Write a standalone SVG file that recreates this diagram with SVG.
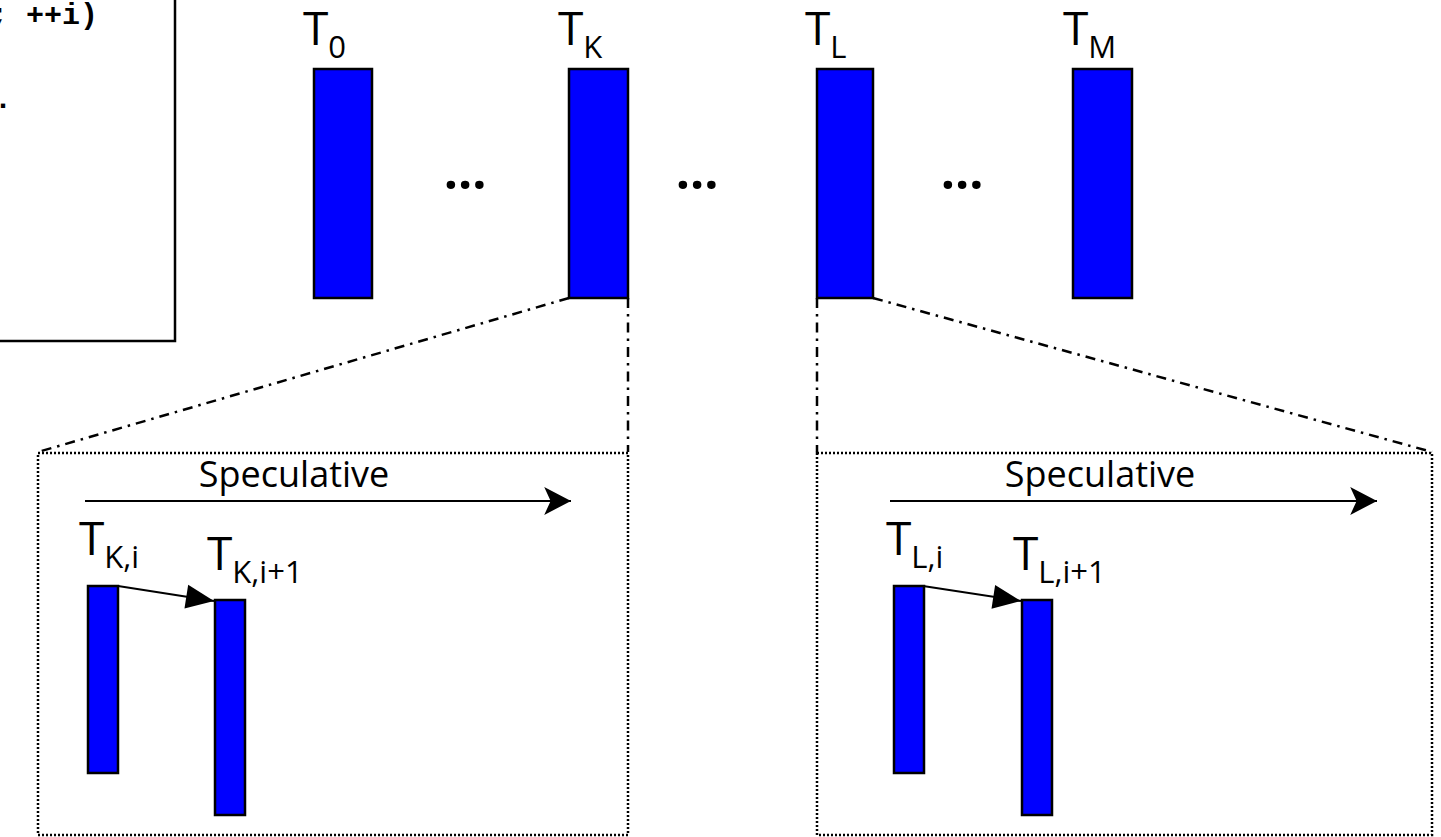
<svg xmlns="http://www.w3.org/2000/svg" width="1441" height="837" viewBox="0 0 1441 837">
<style>
.bar{fill:#0000FF;stroke:#000;stroke-width:2.5}
.lbl{font-family:"Open Sans","Noto Sans",sans-serif;font-size:46px;fill:#000}
.sub{font-size:31px}
.code{font-family:"Liberation Mono",monospace;font-weight:bold;font-size:30px;fill:#000}
.dots{font-family:"Open Sans",sans-serif;font-weight:bold;font-size:50px;fill:#000;text-anchor:middle}
.spec{font-family:"Open Sans","Noto Sans",sans-serif;font-size:36px;fill:#000;text-anchor:middle}
.dashdot{fill:none;stroke:#000;stroke-width:2.5;stroke-dasharray:10 6 2.5 6}
.dotted{fill:none;stroke:#000;stroke-width:2.5;stroke-dasharray:2 2}
.arr{fill:none;stroke:#000;stroke-width:2}
</style>
<defs>
<marker id="stealth" markerUnits="userSpaceOnUse" markerWidth="30" markerHeight="30" viewBox="-26 -14 28 28" refX="0" refY="0" orient="auto">
<path d="M0,0 L-25,-13 L-19,0 L-25,13 Z" fill="#000"/>
</marker>
<marker id="tri" markerUnits="userSpaceOnUse" markerWidth="30" markerHeight="30" viewBox="-29 -13 30 26" refX="0" refY="0" orient="auto">
<path d="M0,0 L-28,-12 L-28,12 Z" fill="#000"/>
</marker>
</defs>

<g id="code-box">
<rect x="-10" y="-10" width="185" height="351" fill="#fff" stroke="#000" stroke-width="2.5"/>
<text class="code" x="-10" y="24" xml:space="preserve">; ++i)</text>
<text class="code" x="-6" y="108">.</text>
</g>

<g id="connectors">
<line class="dashdot" x1="569" y1="298" x2="38" y2="452"/>
<line class="dashdot" x1="628" y1="298" x2="628" y2="452"/>
<line class="dashdot" x1="817" y1="298" x2="817" y2="452"/>
<line class="dashdot" x1="873" y1="298" x2="1432" y2="452"/>
<line class="arr" x1="85" y1="501" x2="571" y2="501" marker-end="url(#stealth)"/>
<line class="arr" x1="890" y1="501" x2="1377" y2="501" marker-end="url(#stealth)"/>
<line class="arr" x1="118" y1="586" x2="214" y2="601" marker-end="url(#tri)"/>
<line class="arr" x1="923" y1="586" x2="1021" y2="601" marker-end="url(#tri)"/>
</g>

<g id="T0">
<rect class="bar" x="314" y="69" width="58" height="229"/>
<text class="lbl" x="303" y="45">T<tspan class="sub" dy="13">0</tspan></text>
</g>
<g id="TK">
<rect class="bar" x="569" y="69" width="59" height="229"/>
<text class="lbl" x="558" y="45">T<tspan class="sub" dy="13">K</tspan></text>
</g>
<g id="TL">
<rect class="bar" x="817" y="69" width="56" height="229"/>
<text class="lbl" x="805" y="45">T<tspan class="sub" dy="13">L</tspan></text>
</g>
<g id="TM">
<rect class="bar" x="1073" y="69" width="59" height="229"/>
<text class="lbl" x="1063" y="45">T<tspan class="sub" dy="13">M</tspan></text>
</g>

<g id="ellipses">
<text class="dots" x="465" y="189">…</text>
<text class="dots" x="697" y="189">…</text>
<text class="dots" x="962" y="189">…</text>
</g>

<g id="box-K">
<rect class="dotted" x="38" y="453" width="590" height="382"/>
<text class="spec" x="294" y="487">Speculative</text>
</g>
<g id="TKi">
<rect class="bar" x="88" y="586" width="30" height="187"/>
<text class="lbl" x="79" y="555">T<tspan class="sub" dy="13">K,i</tspan></text>
</g>
<g id="TKi1">
<rect class="bar" x="215" y="600" width="30" height="215"/>
<text class="lbl" x="207" y="570">T<tspan class="sub" dy="13">K,i+1</tspan></text>
</g>

<g id="box-L">
<rect class="dotted" x="817" y="453" width="615" height="382"/>
<text class="spec" x="1100" y="487">Speculative</text>
</g>
<g id="TLi">
<rect class="bar" x="894" y="586" width="30" height="187"/>
<text class="lbl" x="886" y="555">T<tspan class="sub" dy="13">L,i</tspan></text>
</g>
<g id="TLi1">
<rect class="bar" x="1022" y="600" width="30" height="215"/>
<text class="lbl" x="1013" y="570">T<tspan class="sub" dy="13">L,i+1</tspan></text>
</g>
</svg>
